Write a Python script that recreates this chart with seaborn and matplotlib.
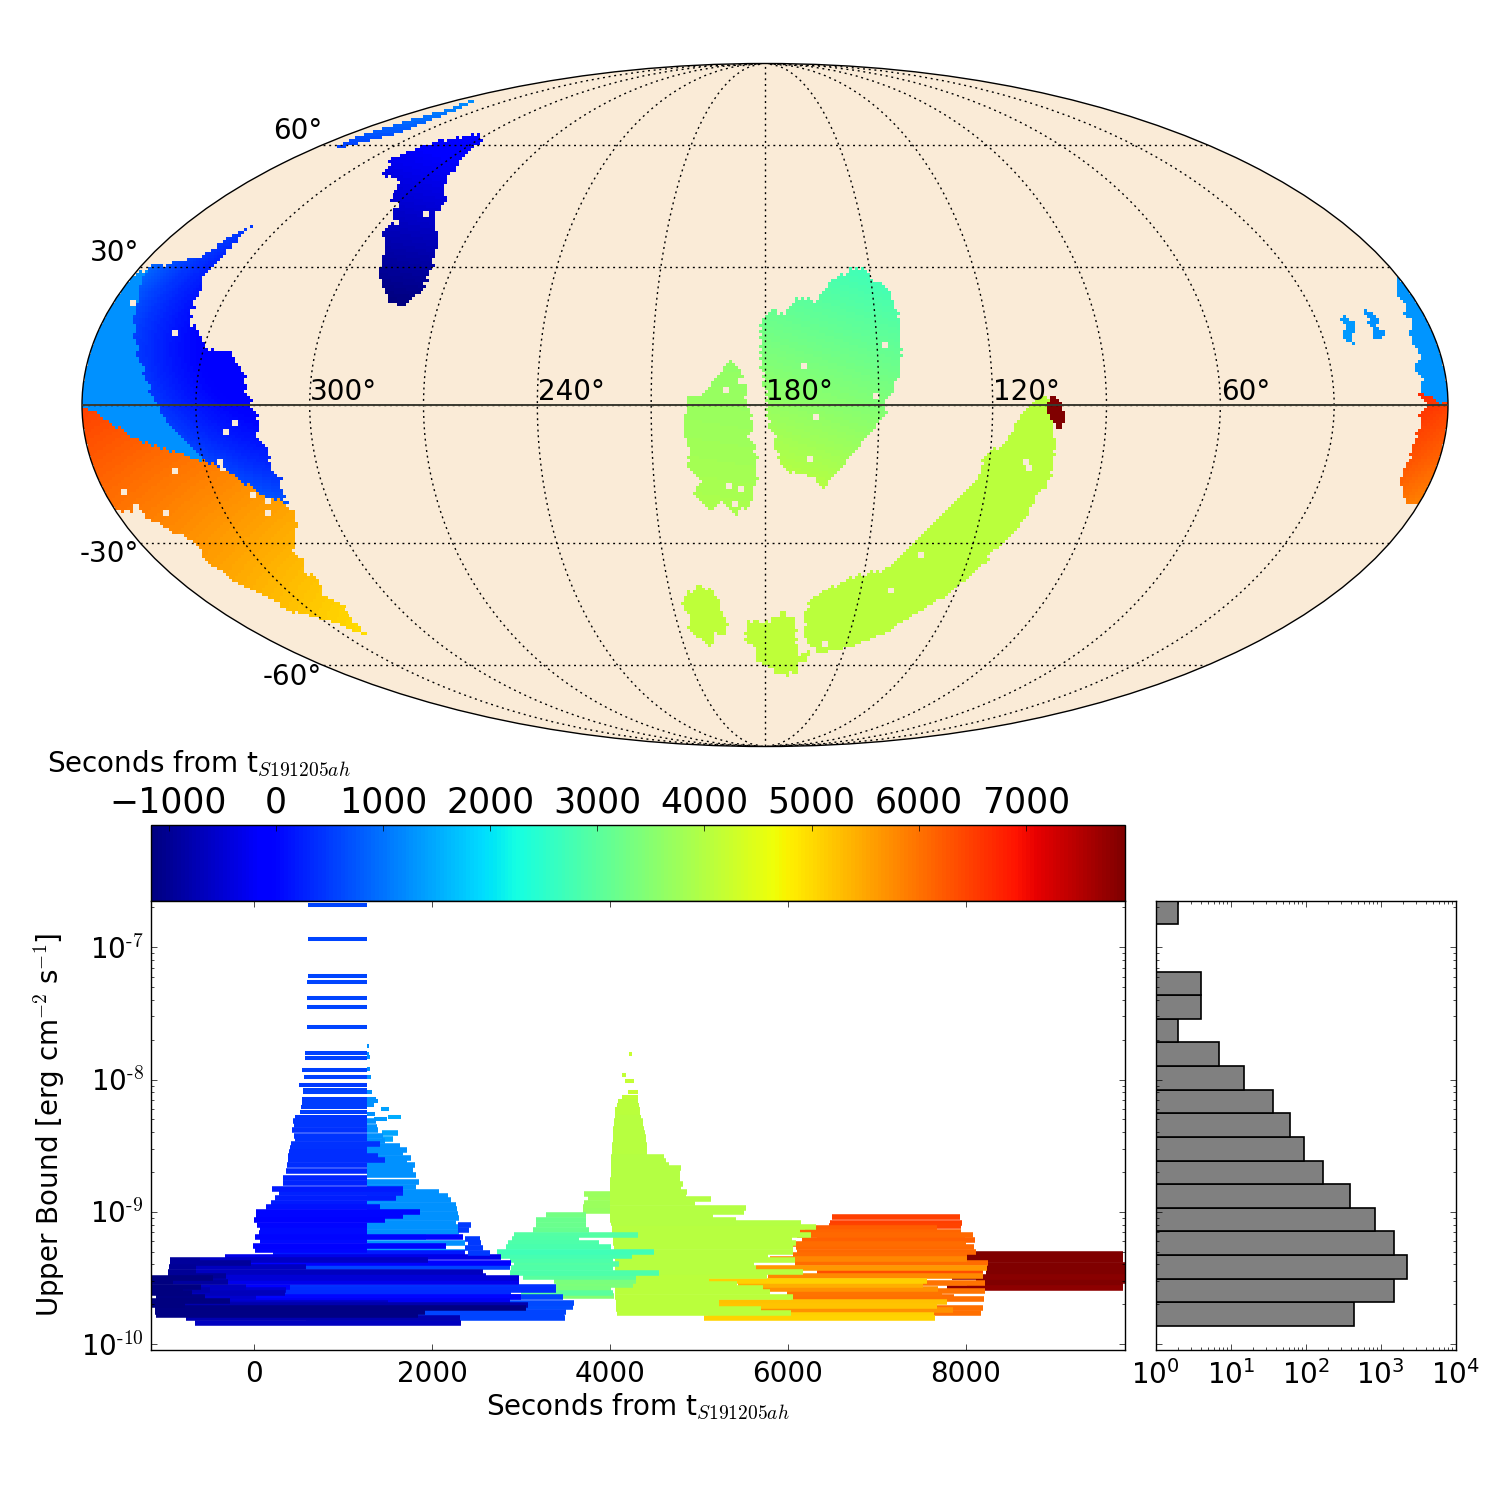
import numpy as np
import seaborn as sns
import matplotlib
matplotlib.use('Agg')
import matplotlib.pyplot as plt
from matplotlib.path import Path
from matplotlib.colors import Normalize
from matplotlib.cm import ScalarMappable
from matplotlib.ticker import NullFormatter, LogLocator

# ---- sky map regions: outline in RA/Dec (deg), then time samples (ra, dec, seconds)
navy_ra = [305.6, 298, 295.7, 289.2, 285, 284.3, 280, 277, 275.6, 275.7, 275.7, 279.5, 284.4, 290.2, 292, 296.7, 296.2, 300, 302.6, 308, 315.7, 322.5, 319, 312]
navy_dec = [63.1, 61.6, 56.4, 48.1, 46, 42.4, 37, 34.3, 30, 27, 24.4, 20.6, 22.8, 28, 32.7, 37.5, 39.6, 45.6, 45.1, 50.8, 51.9, 56.4, 60.1, 61.6]
navy_t = [(320, 60, -150), (300, 60, -100), (290, 46, -400), (300, 42, -500), (285, 32, -850), (280, 25, -1050), (290, 25, -1168), (295, 35, -850)]

strip_ra = [353.5, 354, 350, 347.5, 353.4, 348, 340.9, 339, 339.5, 346.9, 349]
strip_dec = [59.2, 62.5, 66.8, 71, 74.2, 73.2, 69.9, 64.9, 63.3, 60.7, 59.6]
strip_t = [(351, 60, 600), (340, 65, 800), (354, 62, 650), (350, 67, 900), (347, 71, 1150), (353, 74, 1300)]

band_ra = [360, 357.3, 350, 340, 330, 325, 330.3, 337.8, 346.4, 355.4, 360]
band_dec = [28, 29, 28, 10, -5, -12, -11.8, -10, -7.3, -2.3, 0]
band_t = [(350, 10, 1270), (340, -5, 1270)]

blue_ra = [338.4, 339, 339, 340, 337.6, 337.6, 336.4, 332.5, 329, 322.8, 318.3, 316.8, 315.2, 313.6, 314.6, 312.5, 312.7, 310.7, 312, 311.4,
           318, 324, 329, 330.6, 337, 340.2, 347, 351.6, 356, 357.7, 350.5, 345.5, 342, 339.5]
blue_dec = [39.6, 36.1, 31.3, 27.4, 24.4, 21.5, 18.2, 14.9, 11.5, 11.8, 7.5, 3.4, 0, -3.6, -7.3, -9.6, -13.8, -15.4, -18, -21.3,
            -19.1, -14.1, -12, -11.3, -4.4, 0, 10.7, 18.2, 26.1, 30.4, 30.9, 32.2, 36.1, 39.8]
blue_t = [(338, 40, 500), (350, 31, 600), (356, 25, 700), (347, 11, 650), (340, 0, 550), (330, -12, 450), (311, -21, 850),
          (315, 0, -150), (314, -9, 100), (335, 15, 50), (323, 12, -100), (338, 21, 100), (346, 16, 350), (327, 1, 100), (337, -4, 450)]

orange_ra = [360, 355.4, 346.4, 337.8, 330.3, 324, 318, 311.4, 311, 312, 318, 316, 319.4, 317, 320.6, 317.5, 320.5, 321.5, 326.5, 332.9, 336.8, 343.3, 345.8, 343.6, 348, 353, 353, 355.7, 359, 360]
orange_dec = [0, -2.3, -7.3, -10, -11.8, -14.1, -19.1, -21.3, -22.7, -26.8, -32.8, -34, -36.8, -38, -41.7, -44.9, -48.2, -53, -49.5, -47.4, -45.9, -38.5, -32.8, -30, -27.6, -23.8, -20.9, -22.7, -22.7, -22]
orange_t = [(360, -2, 6450), (345, -10, 6050), (330, -13, 5850), (311, -22, 5550), (350, -22, 5950), (340, -35, 5500), (316, -35, 5350), (330, -45, 5150), (322, -52, 4950), (355, -15, 6200)]

edge_ra = [0.3, 4, 3.1, 5.2, 4.3, 6.1, 6.3, 5.4, 6.1, 7.8, 5.6, 7.6, 5.3, 0, 0, 0]
edge_dec = [27, 23.7, 21.9, 19.8, 17.8, 15.7, 13.9, 11.8, 9.2, 7.5, 4.9, 3.2, 0.8, 0.2, 15, 27]
edge_t = [(3, 15, 1270), (5, 5, 1350)]

blob1_ra = [21.9, 19.6, 22.4, 21.5, 22.2, 24.8, 22.5, 23.6]
blob1_dec = [19.6, 17.2, 14.4, 12.8, 12.4, 14.6, 17.2, 18.2]
blob1_t = [(22, 15, 1350), (22, 18, 1300)]

blob2_ra = [15, 12.7, 15, 12.3, 14.6, 16.8, 15.6, 16.6, 15.1, 16.4]
blob2_dec = [20.6, 18.2, 16.7, 15.7, 13.9, 14.4, 16.2, 17.6, 18.6, 19.8]
blob2_t = [(15, 17, 1250), (14, 15, 1280)]

red_ra = [7.7, 5.1, 3.5, 0, 0, 0, 2.9, 7.3, 9, 7.8, 7.8, 7.3, 5.6]
red_dec = [2.8, 2.1, 1, 0.2, -14, -21, -21.5, -18.2, -13.9, -11.8, -7.5, -2.5, 0]
red_t = [(3, 1, 6550), (4, -10, 6300), (6, -18, 6050), (3, -21, 5900)]

green_ra = [151.8, 145.2, 143.3, 143.4, 144.8, 148.4, 147.6, 160.4, 164.5, 168.7, 173.3, 176.8, 177.3, 179.5, 179.5, 181.3, 181.4, 178.6, 174, 170.9, 165.6, 160.8, 155.7]
green_dec = [29.7, 24.2, 17.6, 12.2, 6, 0, -1, -14.4, -17.6, -14.6, -15, -11.3, -7.5, -3.2, 1.7, 9.6, 18.2, 20.4, 19.8, 23, 22.2, 27, 29.3]
green_t = [(152, 30, 2700), (165, 22, 3030), (181, 18, 3200), (145, 17, 2900), (165, 12, 3350), (181, 8, 3450), (145, 6, 3150),
           (148, 0, 3550), (180, 0, 3650), (165, -2, 3650), (160, -14, 3900), (175, -12, 3900), (165, -17, 3950)]

leaf_ra = [188.5, 185.8, 184.8, 184.7, 182.9, 184, 181.6, 183.2, 181.6, 184, 182.7, 188.4, 191.8, 195.2, 199, 197.6, 200.6, 200, 202, 200.3, 200.8, 197]
leaf_dec = [9.6, 6.8, 3.8, -0.4, -2.5, -7, -11, -14, -15.7, -18.2, -20, -24.2, -20.8, -23, -19.3, -16, -13.3, -9, -4.7, -1, 1.5, 1.7]
leaf_t = [(188, 9, 3600), (200, 0, 3700), (185, 0, 3700), (200, -15, 3850), (188, -24, 3900)]

arc_ra = [106.2, 109.3, 114.5, 114.4, 121.8, 121.5, 129.5, 130.5, 137.4, 142.2, 145.4, 153.2, 164.6, 167.4, 165.5, 159.6, 148, 137.9, 128, 121.3, 115.5, 113.3, 108.2, 106, 103.7, 102.7, 104.2, 105.4]
arc_dec = [1.7, 0.6, -3.8, -5.8, -11.8, -14.6, -22, -23.3, -29.7, -35, -36.1, -37.7, -42.7, -46.1, -53.2, -56.6, -55.2, -51.9, -45.6, -41.2, -35.7, -30.9, -25.9, -20, -16.5, -10.3, -3.8, 1]
arc_t = [(105, 0, 4040), (165, -50, 4080)]

patch_ra = [200, 194.4, 195.3, 192.5, 194.3, 197.6, 199.5, 207, 205.3, 207.5, 205.4, 202]
patch_dec = [-39, -43.2, -46.3, -47.7, -52.2, -51.3, -55.2, -51.1, -47.7, -46, -42, -41.5]
patch_t = [(200, -45, 4100)]

foot_ra = [186, 180, 174, 169.8, 168.7, 167, 163.5, 163.2, 167, 166, 174.4, 179.2, 183.6, 183.8, 187.3]
foot_dec = [-48.2, -48.9, -46.3, -48.2, -53.2, -57.5, -56.4, -59, -59.3, -62, -62.5, -60.4, -59, -55.2, -53.7]
foot_t = [(175, -55, 4090)]

dark_ra = [104, 101.5, 101.4, 101.3, 102.5, 105.4, 105.6, 104.8]
dark_dec = [2.3, 0, -2.1, -4.7, -5.8, -1.7, 0.4, 1.7]
dark_t = [(103, 0, 8000)]

hole_ra = [148, 170, 167.3, 168, 151, 187, 190.5, 189.8, 186.8, 189, 111, 109.5, 134.9, 141.3, 158.4, 339.5, 320.4, 322.8, 326, 354.4, 339, 355, 320.6, 317.3, 319, 347, 288, 295]
hole_dec = [12.2, 8.1, -2.8, -12, 1.3, 4.5, 2.6, -17.4, -18.6, -21.7, -12.4, -13.5, -33.4, -41.5, -55, 14.8, -4, -5.8, -12.6, 21.5, -14.1, -19.1, -19.8, -20.9, -23.8, -23.8, 41.8, 40]

lon_labels = [300, 240, 180, 120, 60]
lat_labels = [60, 30, -30, -60]

# ---- upper bounds vs time: log10(flux), start and stop (s)
column_flux = [-6.683, -6.940, -7.219, -7.264, -7.383, -7.451, -7.602, -7.801, -7.836, -7.929, -7.980, -8.043, -8.076, -8.096, -8.151, -8.181, -8.207, -8.244, -8.282, -8.312, -8.345, -8.378,
               -8.428, -8.453, -8.484, -8.514, -8.547, -8.577, -8.610, -8.647, -8.693, -8.748, -8.786, -8.831, -8.861, -8.899, -8.937, -8.967, -9.0, -9.033, -9.063, -9.101, -9.131, -9.164, -9.194, -9.222, -9.259, -9.290, -9.315]
column_start = [600, 600, 600, 588, 588, 588, 588, 565, 565, 540, 554, 498, 543, 543, 532, 532, 521, 509, 453, 434, 442, 423,
                442, 453, 416, 397, 389, 378, 375, 363, 352, 322, 318, 198, 273, 228, 191, 127, 22, 15, -7, 34, 60, 52, 4, 60, -15, 4, 210]
column_stop = [1262, 1262, 1262, 1262, 1262, 1262, 1262, 1262, 1262, 1262, 1262, 1262, 1262, 1262, 1262, 1262, 1262, 1262, 1262, 1262, 1262, 1262,
               1262, 1262, 1408, 1262, 1262, 1386, 1464, 1262, 1262, 1262, 1262, 1667, 1667, 1595, 1262, 1408, 1865, 1667, 1464, 1262, 1262, 1262, 2344, 1262, 2157, 1262, 2363]

lobe_flux = [-7.748, -7.804, -7.829, -7.922, -7.980, -8.093, -8.144, -8.161, -8.194, -8.257, -8.312, -8.358, -8.383, -8.426, -8.463, -8.504, -8.534, -8.559, -8.592, -8.622, -8.647, -8.673, -8.698, -8.723, -8.778, -8.811, -8.849, -8.882, -8.912, -8.950, -8.980, -9.013, -9.050, -9.088, -9.113, -9.151, -9.189, -9.239, -9.269, -9.302, -8.224, -8.282, -8.297, -8.403, -8.446]
lobe_start = [1262] * 40 + [1419, 1498, 1341, 1431, 1440]
lobe_stop = [1285, 1285, 1296, 1296, 1307, 1318, 1363, 1386, 1341, 1352, 1363, 1378, 1386, 1442, 1464, 1633, 1712, 1667, 1756, 1719, 1801, 1783, 1783, 1820, 1846, 1820, 2071, 2176, 2213, 2269, 2281, 2288, 2299, 2269, 2299, 2299, 1932, 2363, 2157, 2363, 1509, 1644, 1487, 1610, 1560]

tail_flux = [-9.101, -9.134, -9.202, -9.239, -9.277, -9.315]
tail_start = [2288, 2288, 2363, 2400, 2363, 2400]
tail_stop = [2438, 2419, 2532, 2550, 2569, 2644]
tail_color = 500

base_flux = [-9.340, -9.365, -9.365, -9.390, -9.390, -9.421, -9.421, -9.421, -9.453, -9.453, -9.484, -9.484, -9.504, -9.504, -9.534, -9.534, -9.534,
             -9.567, -9.567, -9.567, -9.567, -9.592, -9.592, -9.592, -9.592, -9.617, -9.617, -9.617, -9.642, -9.642, -9.642, -9.642,
             -9.673, -9.673, -9.690, -9.690, -9.705, -9.705, -9.718, -9.730, -9.756, -9.756, -9.781, -9.781, -9.806, -9.806, -9.839]
base_start = [-333, -944, -614, -944, -41, -959, -652, 584, -970, -652, -970, -427, -1176, -464, -1176, -914, -300,
              -1168, -600, -90, 397, -1157, -800, -502, 360, -1168, -700, 341, -1101, -558, 22, 584,
              -1157, -277, 622, -600, -1157, -783, 659, -1120, -1120, 600, -1101, 600, -764, 584, -670]
base_stop = [2775, -614, 1947, -41, 2887, -652, 584, 2869, -652, 2569, -315, 2607, -464, 2981, -914, -300, 2981,
             -600, -90, 397, 3393, -800, -502, 360, 3393, -700, 341, 2887, -558, 22, 3000, 3468,
             -277, 2869, 3599, 1500, -783, 3075, 3580, 3056, 1914, 3505, 1839, 3486, 2307, 3498, 2326]

green_flux = [-8.866, -8.899, -8.932, -8.962, -8.992, -9.025, -9.063, -9.101, -9.139, -9.176, -9.209, -9.239, -9.269, -9.302, -9.335, -9.365, -9.395, -9.428, -9.461, -9.491, -9.521, -9.554, -9.584, -9.612, -9.637]
green_start = [3711, 3749, 3711, 3700, 3692, 3281, 3168, 3168, 3138, 2925, 2899, 2850, 2831, 2723, 2775, 2869, 2925, 2887, 2869, 3018, 3374, 3393, 3374, 3000, 3468]
green_stop = [4000, 4000, 4000, 4000, 4000, 3730, 3730, 3730, 3767, 4310, 3655, 3880, 4010, 4497, 4250, 4030, 4105, 4030, 4550, 4290, 4292, 4254, 4010, 4030, 4049]

lime_flux = [-7.809, -7.967, -8.013, -8.093, -8.131, -8.161, -8.191, -8.222, -8.252, -8.282, -8.312, -8.343, -8.373, -8.403, -8.433, -8.463, -8.494, -8.524, -8.554, -8.584, -8.615, -8.645, -8.670, -8.700, -8.730, -8.761, -8.791, -8.821, -8.851, -8.877, -8.907, -8.937, -8.970, -9.0, -9.033, -9.063,
             -9.088, -9.113, -9.144, -9.176, -9.207, -9.237, -9.267, -9.302, -9.332, -9.363, -9.393, -9.423, -9.453, -9.486, -9.516, -9.549, -9.579, -9.610, -9.642, -9.675, -9.705, -9.738, -9.768]
lime_start = [4213, 4135, 4168, 4198, 4130, 4085, 4075, 4060, 4060, 4050, 4048, 4045, 4037, 4035, 4032, 4030, 4025, 4022, 4020, 4015, 4010, 4010, 4005, 4005, 4005, 4000, 4000, 4000, 4000, 4000, 4000, 4000, 4000, 4000, 4000, 4000,
              4010, 4020, 4020, 4030, 4030, 4030, 4040, 4040, 4040, 4050, 4050, 4050, 4050, 4055, 4060, 4060, 4060, 4060, 4060, 4065, 4070, 4070, 4075]
lime_stop = [4247, 4180, 4269, 4310, 4310, 4310, 4320, 4335, 4340, 4350, 4366, 4370, 4385, 4390, 4400, 4405, 4410, 4415, 4420, 4610, 4628, 4660, 4795, 4785, 4785, 4790, 4815, 4800, 4860, 4850, 5140, 4960, 5530, 5510, 5160, 5420,
             6150, 6310, 6140, 6260, 6050, 6090, 6060, 6060, 5780, 6080, 5620, 5640, 6165, 5770, 5110, 5430, 5720, 5800, 6055, 5220, 5220, 5700, 6030]

orange_flux = [-9.038, -9.083, -9.108, -9.126, -9.151, -9.176, -9.194, -9.214, -9.244, -9.270, -9.302, -9.327, -9.360, -9.390, -9.423, -9.458, -9.486, -9.521, -9.542, -9.552, -9.584, -9.597, -9.622, -9.647, -9.662, -9.680, -9.713, -9.728, -9.743, -9.768, -9.781, -9.806]
orange_start = [6490, 6478, 6460, 6187, 6131, 6105, 6329, 6161, 6041, 6086, 6105, 6060, 5794, 6075, 5645, 6329, 5772, 5110, 5993, 5436, 5716, 5993, 5993, 6052, 6030, 5226, 5211, 6030, 5693, 6030, 5103, 5054]
orange_stop = [7936, 7959, 7948, 7675, 7948, 8078, 7992, 8105, 8004, 8093, 8116, 8011, 8011, 8247, 8236, 8198, 8190, 7566, 8217, 7521, 7690, 8217, 7734, 7869, 8206, 7790, 7675, 8190, 7854, 8172, 7637, 7656]

brown_flux = [-9.317, -9.348, -9.368, -9.403, -9.433, -9.463, -9.496, -9.526, -9.557, -9.579]
brown_start = [8004, 8004, 8015, 8236, 8236, 8228, 7847, 8116, 8011, 7790]
brown_stop = [9768, 9768, 9768, 9787, 9787, 9787, 9787, 9787, 9768, 9768]

# ---- histogram of the upper bounds
hist_edges = [-9.864, -9.685, -9.506, -9.328, -9.149, -8.970, -8.792, -8.613, -8.434, -8.256, -8.077, -7.898, -7.720, -7.541, -7.362, -7.184, -7.005, -6.826, -6.648]
hist_counts = [445, 1520, 2267, 1520, 849, 394, 172, 96, 62, 37, 15, 7, 2, 4, 4, 0, 0, 2]

cbar_ticks = [-1000, 0, 1000, 2000, 3000, 4000, 5000, 6000, 7000]
time_ticks = [0, 2000, 4000, 6000, 8000]
flux_ticks = [1e-10, 1e-9, 1e-8, 1e-7]
flux_labels = ['10$^{\\text{-10}}$', '10$^{\\text{-9}}$', '10$^{\\text{-8}}$', '10$^{\\text{-7}}$']
count_ticks = [1, 10, 100, 1000, 10000]
count_labels = ['10$^{0}$', '10$^{1}$', '10$^{2}$', '10$^{3}$', '10$^{4}$']

time_label = 'Seconds from t$_{\\mathit{S}\\mathrm{191205}\\mathit{ah}}$'

sns.set_style('ticks')
plt.rcParams.update({
    'font.family': ['DejaVu Sans'],
    'mathtext.fontset': 'cm',
    'mathtext.default': 'regular',
    'text.color': 'black',
    'axes.labelcolor': 'black',
    'axes.edgecolor': 'black',
    'axes.linewidth': 1.0,
    'xtick.color': 'black',
    'ytick.color': 'black',
    'xtick.direction': 'in',
    'ytick.direction': 'in',
    'xtick.top': True,
    'ytick.right': True,
    'xtick.major.size': 4.5,
    'ytick.major.size': 4.5,
    'xtick.minor.size': 2.5,
    'ytick.minor.size': 2.5,
    'xtick.major.width': 0.5,
    'ytick.major.width': 0.5,
    'xtick.minor.width': 0.5,
    'ytick.minor.width': 0.5,
    'xtick.labelsize': 20,
    'ytick.labelsize': 20,
    'axes.labelsize': 20,
})

W, H = 1500.0, 1500.0
fig = plt.figure(figsize=(15, 15), dpi=100)


def axes_px(left, top, right, bottom, **kw):
    return fig.add_axes([left / W, 1 - bottom / H, (right - left) / W, (bottom - top) / H], **kw)


cmap = plt.get_cmap('jet')
norm = Normalize(vmin=-1168, vmax=7923)

# ---- map
ax_map = axes_px(82, 63, 1448, 747, projection='mollweide')
ax_map.set_facecolor('#faebd7')

root2 = np.sqrt(2)


def inverse_moll(x, y):
    theta = np.arcsin(y / root2)
    lat = np.arcsin((2 * theta + np.sin(2 * theta)) / np.pi)
    lon = np.pi * x / (2 * root2 * np.cos(theta))
    return lon, lat


# pixelised sky, cells square on the page
nx, ny = 456, 228
x_edges = np.linspace(-2 * root2, 2 * root2, nx + 1)
y_edges = np.linspace(-root2 * 0.999, root2 * 0.999, ny + 1)
x_mid = 0.5 * (x_edges[1:] + x_edges[:-1])
y_mid = 0.5 * (y_edges[1:] + y_edges[:-1])
lon_e, lat_e = inverse_moll(*np.meshgrid(x_edges, y_edges))
lon_c, lat_c = inverse_moll(*np.meshgrid(x_mid, y_mid))
ra_c = 180 - np.degrees(lon_c)
dec_c = np.degrees(lat_c)
on_sky = np.abs(lon_c) <= np.pi

# the sky tiles are small diamonds, so outlines come out zigzag
tile = 1.5
u_tile = np.round((ra_c + dec_c) / tile)
v_tile = np.round((ra_c - dec_c) / tile)
ra_tile = np.clip((u_tile + v_tile) * tile / 2, 0.01, 359.99)
dec_tile = (u_tile - v_tile) * tile / 2

sky = np.full(ra_c.shape, np.nan)
regions = [
    (band_ra, band_dec, band_t, 1, True), (blue_ra, blue_dec, blue_t, 2, True), (orange_ra, orange_dec, orange_t, 1, True),
    (navy_ra, navy_dec, navy_t, 1, True), (strip_ra, strip_dec, strip_t, 1, False), (edge_ra, edge_dec, edge_t, 1, True),
    (blob1_ra, blob1_dec, blob1_t, 1, False), (blob2_ra, blob2_dec, blob2_t, 1, False), (red_ra, red_dec, red_t, 1, True),
    (green_ra, green_dec, green_t, 1, True), (leaf_ra, leaf_dec, leaf_t, 1, True), (arc_ra, arc_dec, arc_t, 1, True),
    (patch_ra, patch_dec, patch_t, 1, True), (foot_ra, foot_dec, foot_t, 1, True), (dark_ra, dark_dec, dark_t, 1, False),
]
pts = np.column_stack([ra_c.ravel(), dec_c.ravel()])
pts_tile = np.column_stack([ra_tile.ravel(), dec_tile.ravel()])


def design(a, d, degree):
    cols = [np.ones_like(a), a, d]
    if degree == 2:
        cols += [a * a, a * d, d * d]
    return np.column_stack(cols)


# smooth surface through the time samples of each region
for r_ra, r_dec, r_t, degree, tiled in regions:
    outline = Path(np.column_stack([r_ra, r_dec]))
    inside = outline.contains_points(pts_tile if tiled else pts).reshape(ra_c.shape) & on_sky
    samples = np.array(r_t, dtype=float)
    if len(samples) < 4:
        sky[inside] = samples[:, 2].mean()
        continue
    a0, d0 = samples[:, 0].mean(), samples[:, 1].mean()
    coef = np.linalg.lstsq(design(samples[:, 0] - a0, samples[:, 1] - d0, degree), samples[:, 2], rcond=None)[0]
    sky[inside] = design(ra_c[inside] - a0, dec_c[inside] - d0, degree) @ coef

for h_ra, h_dec in zip(hole_ra, hole_dec):
    j, i = np.unravel_index(np.nanargmin((ra_c - h_ra) ** 2 + (dec_c - h_dec) ** 2), ra_c.shape)
    sky[j:j + 2, i:i + 2] = np.nan

ax_map.pcolormesh(lon_e, lat_e, np.ma.masked_invalid(sky), cmap=cmap, norm=norm, shading='flat')

ax_map.set_longitude_grid(30)
ax_map.set_latitude_grid(30)
ax_map.set_longitude_grid_ends(89.9)
ax_map.xaxis.set_major_formatter(NullFormatter())
ax_map.yaxis.set_major_formatter(NullFormatter())
ax_map.set_axisbelow(False)
ax_map.grid(True, color='black', linestyle=(0, (1.4, 2.7)), linewidth=1.0)
ax_map.plot([-np.pi, np.pi], [0, 0], color='#3a3a30', lw=1.4, zorder=3)

for lon in lon_labels:
    ax_map.annotate('%d\u00b0' % lon, (np.radians(180 - lon), 0), xytext=(0.5, 3.5), textcoords='offset points',
                    fontsize=20, ha='left', va='baseline', zorder=4)
lat_offsets = {60: (-0.8, 10), 30: (-0.8, 10), -30: (-0.8, -8), -60: (-0.8, -8.5)}
for lat in lat_labels:
    ax_map.annotate('%d\u00b0' % lat, (-np.pi, np.radians(lat)), xytext=lat_offsets[lat], textcoords='offset points',
                    fontsize=20, ha='right', va='center', zorder=4, annotation_clip=False)

# ---- colorbar
cax = axes_px(150.5, 825, 1125, 900.7)
cbar = fig.colorbar(ScalarMappable(norm=norm, cmap=cmap), cax=cax, orientation='horizontal', ticks=cbar_ticks)
cax.xaxis.set_ticks_position('top')
cax.tick_params(axis='x', which='major', labelsize=25, length=4.5, width=0.5, direction='in', pad=4, bottom=False)
cax.minorticks_off()
cbar.outline.set_linewidth(1.0)
fig.text(47 / W, 1 - 763.5 / H, time_label, fontsize=20, ha='left', va='center')

# ---- upper bounds
ax_main = axes_px(150.5, 900.7, 1125, 1350)
ax_main.set_yscale('log')

flux = np.array(brown_flux + orange_flux + lime_flux + green_flux + lobe_flux + column_flux + base_flux)
start = np.array(brown_start + orange_start + lime_start + green_start + lobe_start + column_start + base_start, dtype=float)
stop = np.array(brown_stop + orange_stop + lime_stop + green_stop + lobe_stop + column_stop + base_stop, dtype=float)
order = np.argsort(-start, kind='stable')
widths = np.where(flux[order] > -8.3, 2.9, 4.0)
ax_main.hlines(10.0 ** flux[order], start[order], stop[order], colors=cmap(norm(start[order])), linewidth=widths, capstyle='butt')
ax_main.hlines(10.0 ** np.array(tail_flux), tail_start, tail_stop, colors=[cmap(norm(tail_color))], linewidth=4.0, capstyle='butt')

ax_main.set_xlim(-1168, 9790)
ax_main.set_ylim(10 ** -10.045, 10 ** -6.648)
ax_main.set_xticks(time_ticks)
ax_main.set_yticks(flux_ticks)
ax_main.set_yticklabels(flux_labels)
ax_main.yaxis.set_minor_locator(LogLocator(base=10, subs=np.arange(2, 10) * 0.1, numticks=20))
ax_main.yaxis.set_minor_formatter(NullFormatter())
ax_main.tick_params(axis='x', pad=7)
ax_main.tick_params(axis='y', pad=5)
ax_main.set_xlabel(time_label, labelpad=3)
ax_main.set_ylabel('Upper Bound [erg cm$^{\\mathrm{-2}}$ s$^{\\mathrm{-1}}$]')
ax_main.yaxis.set_label_coords(-0.086, 0.5)

# ---- histogram
ax_hist = axes_px(1155.7, 900.7, 1455.7, 1350)
centers = 0.5 * (np.array(hist_edges[1:]) + np.array(hist_edges[:-1]))
sns.histplot(y=10.0 ** centers, weights=hist_counts, bins=hist_edges, log_scale=(False, True), ax=ax_hist,
             color='#808080', edgecolor='black', linewidth=1.2, alpha=1.0)
ax_hist.set_xscale('log')
ax_hist.set_xlim(1, 1e4)
ax_hist.set_ylim(10 ** -10.045, 10 ** -6.648)
ax_hist.set_xlabel('')
ax_hist.set_ylabel('')
ax_hist.set_xticks(count_ticks)
ax_hist.set_xticklabels(count_labels)
ax_hist.set_yticks(flux_ticks)
ax_hist.set_yticklabels([])
ax_hist.yaxis.set_minor_locator(LogLocator(base=10, subs=np.arange(2, 10) * 0.1, numticks=20))
ax_hist.xaxis.set_minor_locator(LogLocator(base=10, subs=np.arange(2, 10) * 0.1, numticks=20))
ax_hist.xaxis.set_minor_formatter(NullFormatter())
ax_hist.yaxis.set_minor_formatter(NullFormatter())
ax_hist.tick_params(axis='x', pad=7)
ax_hist.set_xlim(1, 1e4)
ax_hist.set_ylim(10 ** -10.045, 10 ** -6.648)

for ax in (ax_main, ax_hist, cax):
    ax.set_axisbelow(False)

fig.savefig('out.png', dpi=100)
